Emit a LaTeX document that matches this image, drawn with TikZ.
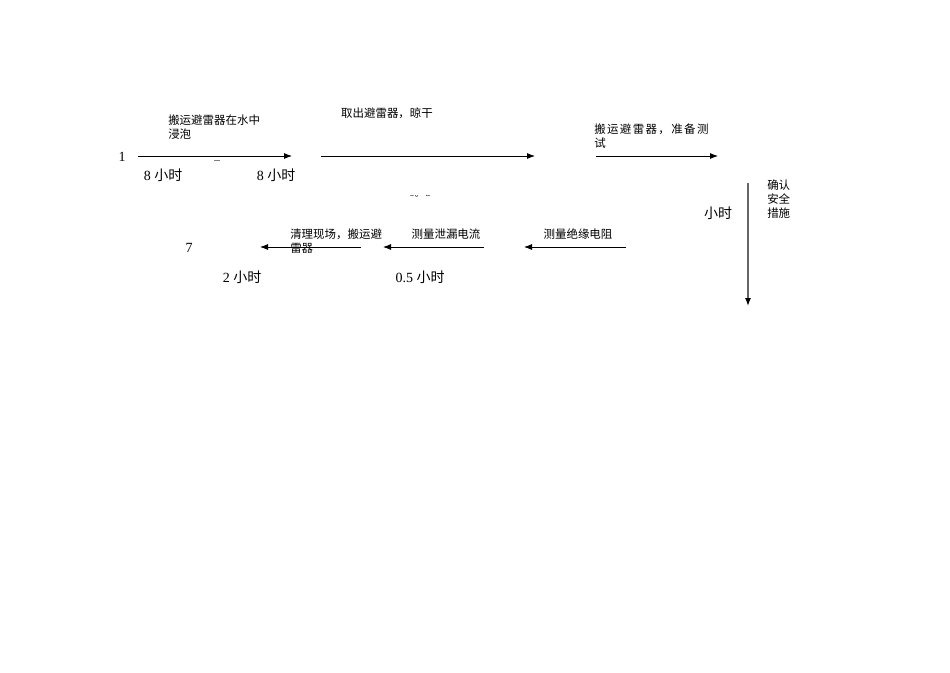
\documentclass[tikz,border=0pt]{standalone}
\usepackage{fontspec}
\setmainfont{Liberation Serif}
\newfontfamily\cjk{Noto Sans CJK SC}
\usetikzlibrary{arrows.meta}

\tikzset{
    step arrow/.style = {-{Latex[length=6pt,width=4.5pt]}, line width=0.6pt},
    task/.style = {font=\cjk\fontsize{8.6}{10.5}\selectfont, align=left, inner sep=0pt},
    hours/.style = {font=\fontsize{10.5}{12}\selectfont, inner sep=0pt},
}

\begin{document}
\begin{tikzpicture}[x=0.75pt,y=-0.75pt]
    \useasboundingbox (0,0) rectangle (950,672);
    % top row, left to right
    \node[hours] (n1) at (122,157) {1};
    \coordinate (a1s) at (138,156);
    \coordinate (a1e) at (292,156);
    \draw[step arrow] (a1s) -- (a1e);
    \node[task, anchor=north west] (t1) at (168,115) {搬运避雷器在水中\\浸泡};
    \node[hours] (h1) at (163,175) {8 {\cjk 小时}};
    \node[hours] (h2) at (276,175) {8 {\cjk 小时}};
    \draw[gray, line width=0.5pt] (214,160) -- (220,160);

    \coordinate (a2s) at (321,156);
    \coordinate (a2e) at (535,156);
    \draw[step arrow] (a2s) -- (a2e);
    \node[task] (t2) at (387,113) {取出避雷器，晾干};
    \begin{scope}
        \clip (380,195) rectangle (460,210);
        \node[font=\fontsize{8}{10}\selectfont, inner sep=0pt] (half) at (420,193) {0{\cjk 。}5};
    \end{scope}

    \coordinate (a3s) at (596,156);
    \coordinate (a3e) at (718,156);
    \draw[step arrow] (a3s) -- (a3e);
    \node[task, anchor=north west] (t3) at (594,124)
        {\addfontfeature{LetterSpace=12}搬运避雷器，准备测\\试};

    % going down
    \coordinate (a4s) at (748,183);
    \coordinate (a4e) at (748,306);
    \draw[-{Latex[length=6pt,width=4.5pt,black]}, gray!80!black, line width=1pt] (a4s) -- (a4e);
    \node[task, anchor=north west] (t4) at (767,180) {确认\\安全\\措施};
    \node[hours] (h4) at (718,213) {\cjk 小时};

    % bottom row, right to left
    \coordinate (a5s) at (626,247);
    \coordinate (a5e) at (524,247);
    \draw[step arrow] (a5s) -- (a5e);
    \node[task] (t5) at (578,234) {测量绝缘电阻};

    \coordinate (a6s) at (484,247);
    \coordinate (a6e) at (383,247);
    \draw[step arrow] (a6s) -- (a6e);
    \node[task] (t6) at (446,234) {测量泄漏电流};
    \node[hours] (h6) at (420,277) {0.5 {\cjk 小时}};

    \coordinate (a7s) at (361,247);
    \coordinate (a7e) at (260,247);
    \draw[step arrow] (a7s) -- (a7e);
    \node[task, anchor=north west] (t7) at (290,229) {清理现场，搬运避\\雷器};
    \node[hours] (h7) at (242,277) {2 {\cjk 小时}};
    \node[hours] (n7) at (189,248) {7};
\end{tikzpicture}
\end{document}
